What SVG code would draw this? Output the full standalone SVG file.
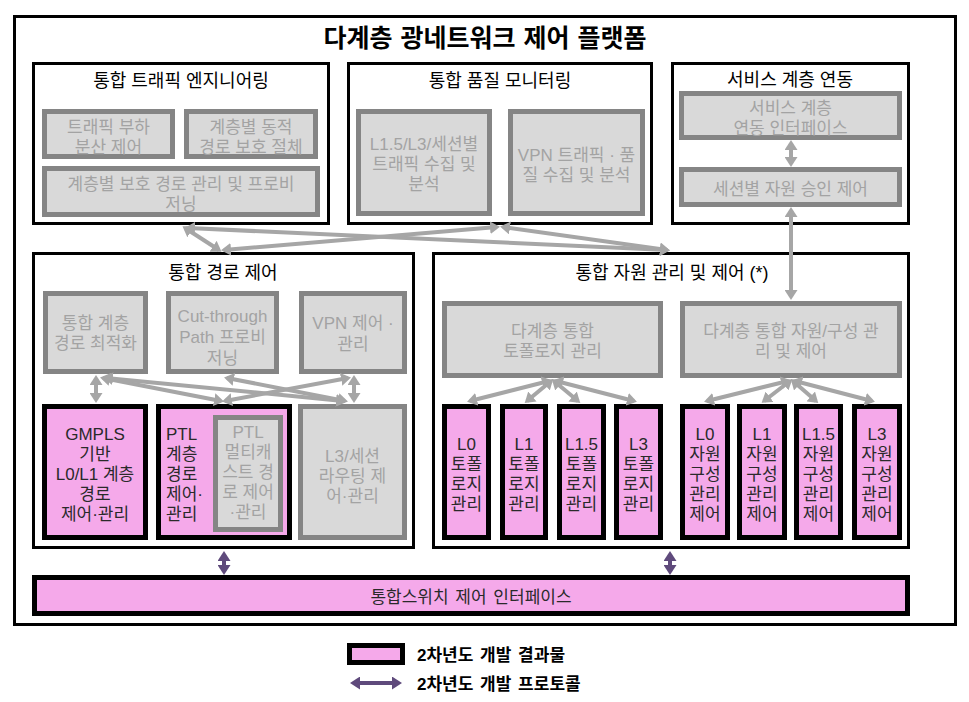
<svg xmlns="http://www.w3.org/2000/svg" width="969" height="702" viewBox="0 0 969 702">
<defs>
<style>
.t{font-family:"Liberation Sans","Noto Sans CJK KR",sans-serif;font-size:17px;text-anchor:middle;dominant-baseline:central;fill:#000}
.h{font-size:18px}
.g{fill:#a3a3a3}
.k{fill:#2a2a2a}
.s{text-anchor:start}
.frame{fill:#fff;stroke:#000;stroke-width:3}
.gb{fill:#d9d9d9;stroke:#858585;stroke-width:5}
.pb{fill:#f5a9ea;stroke:#000;stroke-width:5}
.ga{stroke:#a6a6a6;stroke-width:4;fill:none;marker-start:url(#ag);marker-end:url(#ag)}
.pa{stroke:#5f4a7c;stroke-width:4;fill:none;marker-start:url(#ap);marker-end:url(#ap)}
</style>
<marker id="ag" viewBox="0 0 10 13" refX="7" refY="6.5" markerWidth="10" markerHeight="13" markerUnits="userSpaceOnUse" orient="auto-start-reverse"><path d="M0,0L10,6.5L0,13z" fill="#a6a6a6"/></marker>
<marker id="ap" viewBox="0 0 10 13" refX="7" refY="6.5" markerWidth="11" markerHeight="13" markerUnits="userSpaceOnUse" orient="auto-start-reverse"><path d="M0,0L10,6.5L0,13z" fill="#5f4a7c"/></marker>
</defs>
<rect width="969" height="702" fill="#fff"/>
<g id="platform">
<rect class="frame" x="14.5" y="16.5" width="941" height="608"/>
<text class="t" x="485" y="38" style="font-size:25px;font-weight:bold;word-spacing:1px">다계층 광네트워크 제어 플랫폼</text>
</g>

<g id="te">
<rect class="frame" x="33.5" y="63.5" width="295" height="160"/>
<text class="t h" x="181" y="81">통합 트래픽 엔지니어링</text>
</g>
<g id="te1"><rect class="gb" x="44.5" y="111.5" width="128" height="45"/>
<text class="t g" x="108.5" y="127">트래픽 부하</text>
<text class="t g" x="108.5" y="147">분산 제어</text></g>
<g id="te2"><rect class="gb" x="186.5" y="111.5" width="129" height="45"/>
<text class="t g" x="251" y="127">계층별 동적</text>
<text class="t g" x="251" y="147">경로 보호 절체</text></g>
<g id="te3"><rect class="gb" x="44.5" y="168.5" width="273" height="46"/>
<text class="t g" x="181" y="184">계층별 보호 경로 관리 및 프로비</text>
<text class="t g" x="181" y="204">저닝</text></g>

<g id="qm">
<rect class="frame" x="348.5" y="63.5" width="303" height="160"/>
<text class="t h" x="500" y="81">통합 품질 모니터링</text>
</g>
<g id="qm1"><rect class="gb" x="358.5" y="111.5" width="131" height="102"/>
<text class="t g" x="424" y="144">L1.5/L3/세션별</text>
<text class="t g" x="424" y="164">트래픽 수집 및</text>
<text class="t g" x="424" y="184">분석</text></g>
<g id="qm2"><rect class="gb" x="510.5" y="111.5" width="132" height="102"/>
<text class="t g" x="576.5" y="155">VPN 트래픽 · 품</text>
<text class="t g" x="576.5" y="175">질 수집 및 분석</text></g>

<g id="sl">
<rect class="frame" x="672.5" y="63.5" width="236" height="160"/>
<text class="t h" x="790" y="80">서비스 계층 연동</text>
</g>
<g id="sl1"><rect class="gb" x="681.5" y="93.5" width="218" height="44"/>
<text class="t g" x="790.5" y="108">서비스 계층</text>
<text class="t g" x="790.5" y="128">연동 인터페이스</text></g>
<g id="sl2"><rect class="gb" x="681.5" y="169.5" width="218" height="35"/>
<text class="t g" x="790.5" y="189">세션별 자원 승인 제어</text></g>

<g id="pc">
<rect class="frame" x="33.5" y="253.5" width="380" height="294"/>
<text class="t h" x="223" y="273">통합 경로 제어</text>
</g>
<g id="pcA"><rect class="gb" x="45.5" y="293.5" width="100" height="78"/>
<text class="t g" x="95.5" y="323">통합 계층</text>
<text class="t g" x="95.5" y="343">경로 최적화</text></g>
<g id="pcB"><rect class="gb" x="168.5" y="293.5" width="108" height="78"/>
<text class="t g" x="222.5" y="316">Cut-through</text>
<text class="t g" x="222.5" y="337">Path 프로비</text>
<text class="t g" x="222.5" y="358">저닝</text></g>
<g id="pcC"><rect class="gb" x="301.5" y="293.5" width="103" height="78"/>
<text class="t g" x="353" y="323">VPN 제어 ·</text>
<text class="t g" x="353" y="344">관리</text></g>
<g id="pcP1"><rect class="pb" x="44.5" y="406.5" width="101" height="131"/>
<text class="t k" x="95" y="434">GMPLS</text>
<text class="t k" x="95" y="454">기반</text>
<text class="t k" x="95" y="474">L0/L1 계층</text>
<text class="t k" x="95" y="494">경로</text>
<text class="t k" x="95" y="514">제어·관리</text></g>
<g id="pcP2"><rect class="pb" x="158.5" y="406.5" width="131" height="131"/>
<text class="t k s" x="166" y="434">PTL</text>
<text class="t k s" x="166" y="454">계층</text>
<text class="t k s" x="166" y="474">경로</text>
<text class="t k s" x="166" y="494">제어·</text>
<text class="t k s" x="166" y="514">관리</text></g>
<g id="pcP2in"><rect class="gb" x="215.5" y="417.5" width="65" height="112"/>
<text class="t g" x="248" y="432">PTL</text>
<text class="t g" x="248" y="452">멀티캐</text>
<text class="t g" x="248" y="472">스트 경</text>
<text class="t g" x="248" y="492">로 제어</text>
<text class="t g" x="248" y="512">·관리</text></g>
<g id="pcL3"><rect class="gb" x="300.5" y="406.5" width="104" height="131"/>
<text class="t g" x="352.5" y="456">L3/세션</text>
<text class="t g" x="352.5" y="476">라우팅 제</text>
<text class="t g" x="352.5" y="496">어·관리</text></g>

<g id="rc">
<rect class="frame" x="433.5" y="253.5" width="475" height="294"/>
<text class="t h" x="672" y="273">통합 자원 관리 및 제어 (*)</text>
</g>
<g id="rcL"><rect class="gb" x="444.5" y="303.5" width="216" height="72"/>
<text class="t g" x="552.5" y="331">다계층 통합</text>
<text class="t g" x="552.5" y="351">토폴로지 관리</text></g>
<g id="rcR"><rect class="gb" x="682.5" y="303.5" width="217" height="72"/>
<text class="t g" x="791" y="331">다계층 통합 자원/구성 관</text>
<text class="t g" x="791" y="351">리 및 제어</text></g>
<g id="tL0"><rect class="pb" x="444.5" y="406.5" width="44" height="131"/>
<text class="t k" x="466.5" y="444">L0</text>
<text class="t k" x="466.5" y="464">토폴</text>
<text class="t k" x="466.5" y="484">로지</text>
<text class="t k" x="466.5" y="504">관리</text></g>
<g id="tL1"><rect class="pb" x="502.5" y="406.5" width="43" height="131"/>
<text class="t k" x="524" y="444">L1</text>
<text class="t k" x="524" y="464">토폴</text>
<text class="t k" x="524" y="484">로지</text>
<text class="t k" x="524" y="504">관리</text></g>
<g id="tL15"><rect class="pb" x="559.5" y="406.5" width="44" height="131"/>
<text class="t k" x="581.5" y="444">L1.5</text>
<text class="t k" x="581.5" y="464">토폴</text>
<text class="t k" x="581.5" y="484">로지</text>
<text class="t k" x="581.5" y="504">관리</text></g>
<g id="tL3"><rect class="pb" x="616.5" y="406.5" width="44" height="131"/>
<text class="t k" x="638.5" y="444">L3</text>
<text class="t k" x="638.5" y="464">토폴</text>
<text class="t k" x="638.5" y="484">로지</text>
<text class="t k" x="638.5" y="504">관리</text></g>
<g id="rL0"><rect class="pb" x="682.5" y="406.5" width="45" height="131"/>
<text class="t k" x="705" y="434">L0</text>
<text class="t k" x="705" y="454">자원</text>
<text class="t k" x="705" y="474">구성</text>
<text class="t k" x="705" y="494">관리</text>
<text class="t k" x="705" y="514">제어</text></g>
<g id="rL1"><rect class="pb" x="739.5" y="406.5" width="45" height="131"/>
<text class="t k" x="762" y="434">L1</text>
<text class="t k" x="762" y="454">자원</text>
<text class="t k" x="762" y="474">구성</text>
<text class="t k" x="762" y="494">관리</text>
<text class="t k" x="762" y="514">제어</text></g>
<g id="rL15"><rect class="pb" x="796.5" y="406.5" width="44" height="131"/>
<text class="t k" x="818.5" y="434">L1.5</text>
<text class="t k" x="818.5" y="454">자원</text>
<text class="t k" x="818.5" y="474">구성</text>
<text class="t k" x="818.5" y="494">관리</text>
<text class="t k" x="818.5" y="514">제어</text></g>
<g id="rL3"><rect class="pb" x="854.5" y="406.5" width="45" height="131"/>
<text class="t k" x="877" y="434">L3</text>
<text class="t k" x="877" y="454">자원</text>
<text class="t k" x="877" y="474">구성</text>
<text class="t k" x="877" y="494">관리</text>
<text class="t k" x="877" y="514">제어</text></g>

<g id="switch"><rect class="pb" x="34.5" y="577.5" width="873" height="36"/>
<text class="t k" x="471" y="597" style="word-spacing:2px">통합스위치 제어 인터페이스</text></g>

<g id="connectors">
<line class="ga" x1="185" y1="228" x2="219" y2="250"/>
<line class="ga" x1="188" y1="228" x2="667" y2="250"/>
<line class="ga" x1="497" y1="227" x2="224" y2="250"/>
<line class="ga" x1="503" y1="227" x2="667" y2="250"/>
<line class="ga" x1="791" y1="143" x2="791" y2="164"/>
<line class="ga" x1="791" y1="210" x2="791" y2="297"/>
<line class="ga" x1="96" y1="378" x2="96" y2="400"/>
<line class="ga" x1="103" y1="378" x2="221" y2="401"/>
<line class="ga" x1="106" y1="378" x2="343" y2="401"/>
<line class="ga" x1="227" y1="378" x2="345" y2="401"/>
<line class="ga" x1="348" y1="378" x2="225" y2="401"/>
<line class="ga" x1="354" y1="378" x2="354" y2="400"/>
<line class="ga" x1="549" y1="381" x2="470" y2="401"/>
<line class="ga" x1="551" y1="381" x2="527" y2="401"/>
<line class="ga" x1="554" y1="381" x2="578" y2="401"/>
<line class="ga" x1="556" y1="381" x2="634" y2="401"/>
<line class="ga" x1="788" y1="381" x2="707" y2="401"/>
<line class="ga" x1="790" y1="381" x2="764" y2="401"/>
<line class="ga" x1="793" y1="381" x2="816" y2="401"/>
<line class="ga" x1="795" y1="381" x2="872" y2="401"/>
<line class="pa" x1="224" y1="554" x2="224" y2="572"/>
<line class="pa" x1="670" y1="554" x2="670" y2="572"/>
</g>

<g id="legend">
<rect class="pb" x="349.5" y="645.5" width="53" height="17"/>
<text class="t s" x="417" y="655" style="font-weight:bold;word-spacing:2px">2차년도 개발 결과물</text>
<line class="pa" x1="353" y1="683" x2="399" y2="683"/>
<text class="t s" x="417" y="684" style="font-weight:bold;word-spacing:2px">2차년도 개발 프로토콜</text>
</g>
</svg>
